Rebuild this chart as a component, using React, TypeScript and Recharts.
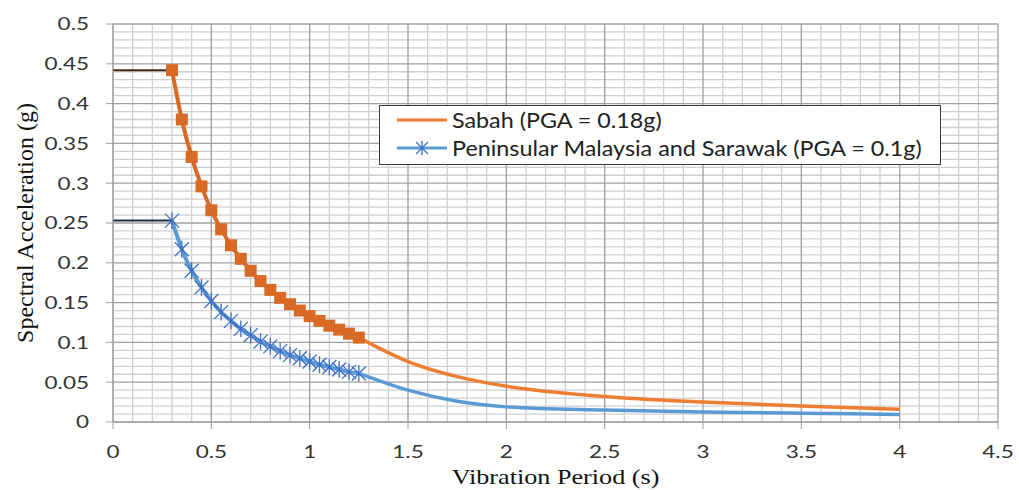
import React from 'react';
import { ComposedChart, Line, XAxis, YAxis, ReferenceLine } from 'recharts';

// Constant-acceleration plateau (0 – 0.3 s)
const plateauPeriods = [0, 0.3];
const sabahPlateau = [0.442, 0.442];
const peninsularPlateau = [0.253, 0.253];

// Marked points, 0.3 – 1.25 s
const markedPeriods = [0.3, 0.35, 0.4, 0.45, 0.5, 0.55, 0.6, 0.65, 0.7, 0.75, 0.8, 0.85, 0.9, 0.95, 1.0, 1.05, 1.1, 1.15, 1.2, 1.25];
const sabahMarked = [0.442, 0.38, 0.333, 0.296, 0.266, 0.242, 0.222, 0.205, 0.19, 0.177, 0.166, 0.156, 0.148, 0.14, 0.133, 0.127, 0.121, 0.116, 0.111, 0.106];
const peninsularMarked = [0.253, 0.217, 0.19, 0.169, 0.152, 0.138, 0.127, 0.117, 0.109, 0.101, 0.095, 0.089, 0.084, 0.08, 0.076, 0.072, 0.069, 0.066, 0.063, 0.061];

// Long-period tail, 1.25 – 4 s
const tailPeriods = [1.25, 1.5, 1.75, 2.0, 2.5, 3.0, 3.5, 4.0];
const sabahTail = [0.106, 0.076, 0.057, 0.045, 0.032, 0.025, 0.02, 0.016];
const peninsularTail = [0.061, 0.04, 0.026, 0.019, 0.015, 0.0125, 0.011, 0.0095];

const xTicks = [0, 0.5, 1, 1.5, 2, 2.5, 3, 3.5, 4, 4.5];
const yTicks = [0, 0.05, 0.1, 0.15, 0.2, 0.25, 0.3, 0.35, 0.4, 0.45, 0.5];

const round = (v: number) => Math.round(v * 1000) / 1000;
const xMinor = Array.from({ length: 46 }, (_, i) => round(i * 0.1)).filter((v) => !xTicks.includes(v));
const yMinor = Array.from({ length: 51 }, (_, i) => round(i * 0.01)).filter((v) => !yTicks.includes(v));

const toRows = (ts: number[], vs: number[]) => ts.map((t, i) => ({ t, v: vs[i] }));

const ORANGE = '#ED7D31';
const ORANGE_MARK = '#D86A26';
const BLUE = '#5B9BD5';
const BLUE_MARK = '#3F6FC4';
const TICK_FONT = 'Lato, "Open Sans", sans-serif';
const TITLE_FONT = '"Liberation Serif", "DejaVu Serif", serif';

// tick text is drawn a little wide, like the rest of the lettering
const StretchedTick = (props: any) => {
  const { x, y, payload, textAnchor, verticalAnchor } = props;
  const dy = verticalAnchor === 'start' ? '0.71em' : verticalAnchor === 'end' ? '0' : '0.355em';
  return (
    <text
      transform={`translate(${x},${y}) scale(1.25,1)`}
      textAnchor={textAnchor}
      dy={dy}
      fill="#333"
      fontSize={18}
      fontFamily={TICK_FONT}
    >
      {payload.value}
    </text>
  );
};

const XTitle = (props: any) => {
  const vb = props.viewBox || { x: 113, y: 422, width: 885, height: 68 };
  const cx = vb.x + vb.width / 2;
  return (
    <text
      transform={`translate(${cx},484) scale(1.19,1)`}
      textAnchor="middle"
      fill="#111"
      fontSize={22}
      fontFamily={TITLE_FONT}
    >
      Vibration Period (s)
    </text>
  );
};

const YTitle = (props: any) => {
  const vb = props.viewBox || { x: 0, y: 24, width: 113, height: 398 };
  const cy = vb.y + vb.height / 2;
  return (
    <text
      transform={`translate(25,${cy}) rotate(-90)`}
      textAnchor="middle"
      dominantBaseline="central"
      fill="#111"
      fontSize={24}
      fontFamily={TITLE_FONT}
    >
      Spectral Acceleration (g)
    </text>
  );
};

const SquareDot = (props: any) => {
  const { cx, cy, index } = props;
  if (cx == null || cy == null) return <g key={index} />;
  return <rect key={index} x={cx - 6} y={cy - 6} width={12} height={12} fill={ORANGE_MARK} />;
};

const Asterisk = ({ cx, cy, r = 7 }: { cx: number; cy: number; r?: number }) => (
  <g stroke={BLUE_MARK} strokeWidth={1.3}>
    <line x1={cx - r} y1={cy - r} x2={cx + r} y2={cy + r} />
    <line x1={cx - r} y1={cy + r} x2={cx + r} y2={cy - r} />
    <line x1={cx} y1={cy - r * 1.2} x2={cx} y2={cy + r * 1.2} />
  </g>
);

const AsteriskDot = (props: any) => {
  const { cx, cy, index } = props;
  if (cx == null || cy == null) return <g key={index} />;
  return <Asterisk key={index} cx={cx} cy={cy} />;
};

const legendText: React.CSSProperties = {
  marginLeft: 4,
  display: 'inline-block',
  transform: 'scaleX(1.11)',
  transformOrigin: 'left center',
  whiteSpace: 'nowrap',
};

const LegendBox = () => (
  <div
    style={{
      position: 'absolute',
      left: 379,
      top: 105,
      width: 562,
      height: 60,
      boxSizing: 'border-box',
      border: '1.5px solid #3a3a3a',
      background: '#fff',
      padding: '0 0 0 16px',
      fontFamily: TICK_FONT,
      fontSize: 21,
      color: '#222',
      lineHeight: '28px',
    }}
  >
    <div style={{ display: 'flex', alignItems: 'center' }}>
      <svg width={52} height={14}>
        <line x1={1} y1={7} x2={51} y2={7} stroke={ORANGE} strokeWidth={3} />
      </svg>
      <span style={legendText}>Sabah (PGA = 0.18g)</span>
    </div>
    <div style={{ display: 'flex', alignItems: 'center' }}>
      <svg width={52} height={16}>
        <line x1={1} y1={8} x2={51} y2={8} stroke={BLUE} strokeWidth={3} />
        <Asterisk cx={26} cy={8} r={6} />
      </svg>
      <span style={legendText}>Peninsular Malaysia and Sarawak (PGA = 0.1g)</span>
    </div>
  </div>
);

export default function App() {
  return (
    <div style={{ position: 'absolute', left: 0, top: 0, width: 1019, height: 490, background: '#fff' }}>
      <ComposedChart width={1019} height={490} margin={{ top: 24, right: 21, left: 0, bottom: 0 }}>
        {yMinor.map((v) => (
          <ReferenceLine key={`ym${v}`} y={v} stroke="#d0d0d0" strokeWidth={1.3} />
        ))}
        {xMinor.map((v) => (
          <ReferenceLine key={`xm${v}`} x={v} stroke="#d0d0d0" strokeWidth={1.3} />
        ))}
        {yTicks.map((v) => (
          <ReferenceLine key={`yM${v}`} y={v} stroke="#a0a0a0" strokeWidth={1.3} />
        ))}
        {xTicks.map((v) => (
          <ReferenceLine key={`xM${v}`} x={v} stroke="#a0a0a0" strokeWidth={1.3} />
        ))}
        <XAxis
          type="number"
          dataKey="t"
          domain={[0, 4.5]}
          ticks={xTicks}
          interval={0}
          height={68}
          tickSize={7}
          tickMargin={16}
          stroke="#a0a0a0"
          tick={<StretchedTick />}
          label={<XTitle />}
        />
        <YAxis
          type="number"
          domain={[0, 0.5]}
          ticks={yTicks}
          interval={0}
          width={113}
          tickSize={7}
          tickMargin={17}
          stroke="#a0a0a0"
          tick={<StretchedTick />}
          label={<YTitle />}
        />
        <Line data={toRows(tailPeriods, sabahTail)} dataKey="v" type="monotone" stroke={ORANGE} strokeWidth={3.5} dot={false} isAnimationActive={false} />
        <Line data={toRows(tailPeriods, peninsularTail)} dataKey="v" type="monotone" stroke={BLUE} strokeWidth={3.5} dot={false} isAnimationActive={false} />
        <Line data={toRows(plateauPeriods, sabahPlateau)} dataKey="v" type="linear" stroke="#4a2a14" strokeWidth={2} dot={false} isAnimationActive={false} />
        <Line data={toRows(plateauPeriods, peninsularPlateau)} dataKey="v" type="linear" stroke="#1c2c4c" strokeWidth={2} dot={false} isAnimationActive={false} />
        <Line data={toRows(markedPeriods, sabahMarked)} dataKey="v" type="monotone" stroke={ORANGE_MARK} strokeWidth={4} dot={SquareDot} isAnimationActive={false} />
        <Line data={toRows(markedPeriods, peninsularMarked)} dataKey="v" type="monotone" stroke={BLUE} strokeWidth={4} dot={AsteriskDot} isAnimationActive={false} />
      </ComposedChart>
      <LegendBox />
    </div>
  );
}
